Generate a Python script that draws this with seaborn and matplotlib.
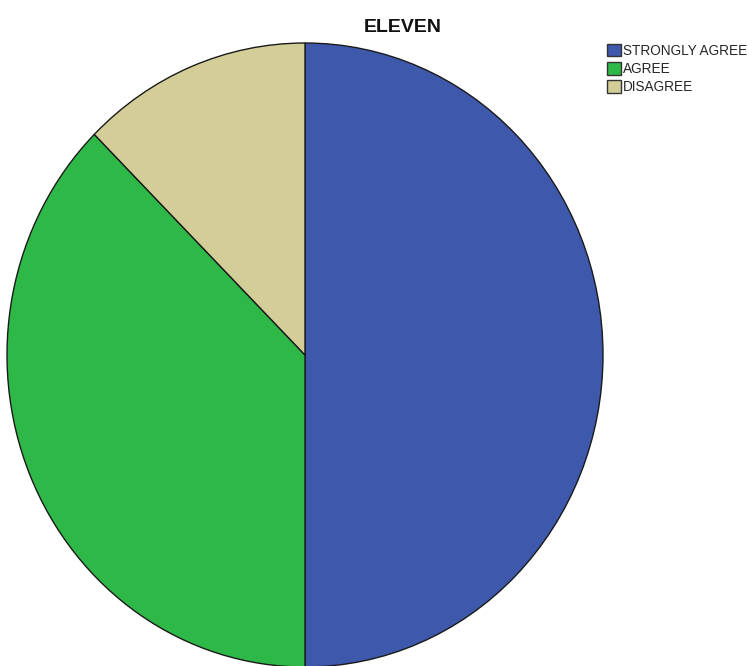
import matplotlib
matplotlib.use("Agg")
import matplotlib.pyplot as plt
import seaborn as sns

categories = ["STRONGLY AGREE", "AGREE", "DISAGREE"]
counts = [4, 3, 1]
colors = ["#3e58ab", "#2eb848", "#d3ce98"]
title = "ELEVEN"

sns.set_theme(style="white")
plt.rcParams["font.family"] = ["Liberation Sans", "DejaVu Sans"]

W, H = 749, 666
fig = plt.figure(figsize=(W / 100, H / 100), dpi=100)

# axes placed in pixel terms: pie spans x 7..603, y 43..667 (top-down)
left, right, top, bottom = 7, 603, 43, 667
ax = fig.add_axes([left / W, (H - bottom) / H, (right - left) / W, (bottom - top) / H])
wedges, _ = ax.pie(
    counts,
    colors=sns.color_palette(colors),
    startangle=90,
    counterclock=False,
    wedgeprops=dict(edgecolor="#1a1a1a", linewidth=1.0),
    radius=1.0,
)
ax.set_aspect("auto")
ax.set_xlim(-1.0, 1.0)
ax.set_ylim(-1.0, 1.0)
ax.axis("off")

fig.text(403 / W, 1 - 27 / H, title, ha="center", va="center",
         fontsize=14, fontweight="bold", color="#111111")

leg = fig.legend(
    wedges, categories,
    loc="upper left",
    bbox_to_anchor=(607 / W, 1 - 44 / H),
    frameon=False,
    fontsize=9.8,
    handlelength=1.0,
    handleheight=1.0,
    handletextpad=0.2,
    labelspacing=0.3,
    borderaxespad=0,
    borderpad=0,
)
for h in leg.legend_handles:
    h.set_edgecolor("#333333")
    h.set_linewidth(1.0)

fig.savefig("out.png", dpi=100)
